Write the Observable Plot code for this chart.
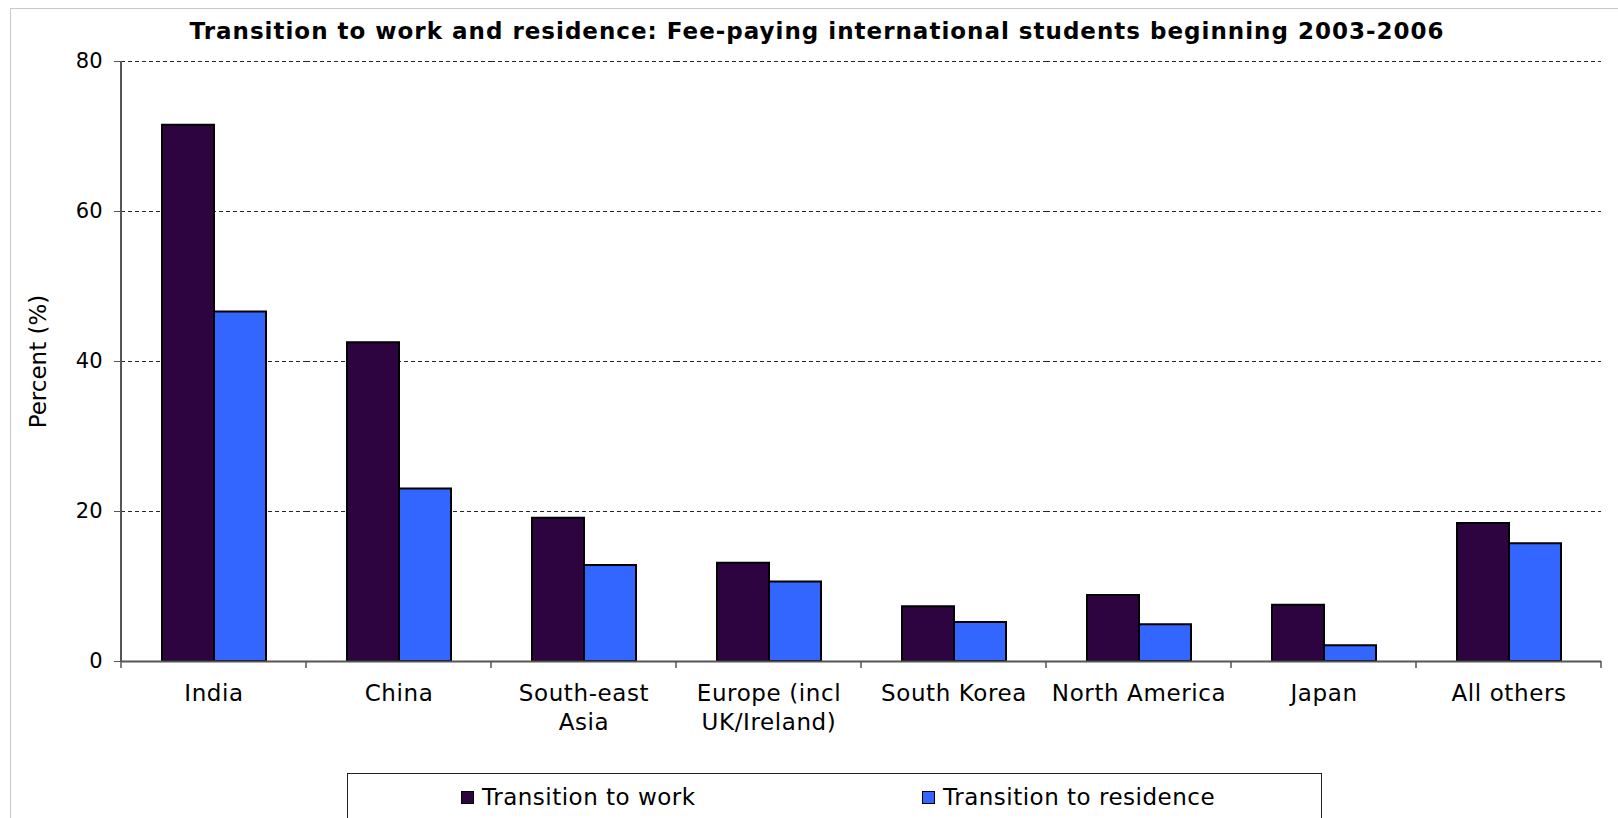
<!DOCTYPE html>
<html><head><meta charset="utf-8">
<script src="https://cdn.jsdelivr.net/npm/d3@7"></script>
<script src="https://cdn.jsdelivr.net/npm/@observablehq/plot@0.6"></script>
<style>
body{margin:0;background:#fff;font-family:"DejaVu Sans",Verdana,sans-serif;overflow:hidden;}
#frame{position:absolute;left:10px;top:8px;width:1640px;height:900px;border:1px solid #c8c8c8;}
#title{position:absolute;left:0;top:20px;width:1634px;text-align:center;font-weight:bold;font-size:23px;line-height:23px;letter-spacing:1px;color:#000;white-space:nowrap;}
#chart{position:absolute;left:0;top:0;}
#legend{position:absolute;left:347px;top:773px;width:973px;height:80px;border:1px solid #222;background:#fff;}
.item{position:absolute;top:12px;font-size:23px;line-height:23px;letter-spacing:0.5px;white-space:nowrap;}
.swatch{position:absolute;width:11px;height:11px;border:1px solid #000;}
#chart g[aria-label="y-axis label"], #chart g[aria-label="y-axis label"] text{font-size:23px !important;}
#chart g[aria-label="fx-axis tick label"] text{letter-spacing:0.6px;}
</style>
</head><body>
<div id="frame"></div>
<div id="chart"></div>
<div id="title">Transition to work and residence: Fee-paying international students beginning 2003-2006</div>
<div id="legend"></div>
<script>
const categories = ["India","China","South-east Asia","Europe (incl UK/Ireland)","South Korea","North America","Japan","All others"];
const tickLabels = ["India","China","South-east\nAsia","Europe (incl\nUK/Ireland)","South Korea","North America","Japan","All others"];
const series = ["Transition to work","Transition to residence"];
const work = [71.5, 42.5, 19.1, 13.1, 7.3, 8.8, 7.5, 18.4];
const residence = [46.6, 23.0, 12.8, 10.6, 5.2, 4.9, 2.1, 15.7];
const yTicks = [0, 20, 40, 60, 80];
const colors = ["#2e0440", "#3366ff"];

const rows = categories.flatMap((c, i) => [
  {category: c, series: series[0], value: work[i]},
  {category: c, series: series[1], value: residence[i]}
]);

const plot = Plot.plot({
  width: 1618, height: 760,
  marginLeft: 120, marginRight: 17, marginTop: 61, marginBottom: 99,
  style: {fontFamily: "DejaVu Sans", fontSize: "23px", background: "transparent", overflow: "visible", color: "#000"},
  fx: {domain: categories, padding: 0},
  x: {domain: series, paddingInner: 0, paddingOuter: 0.756, axis: null},
  y: {domain: [0, 80]},
  color: {domain: series, range: colors},
  marks: [
    Plot.ruleY(yTicks.slice(1), {stroke: "#000", strokeOpacity: 0.85, strokeDasharray: "4,3"}),
    Plot.barY(rows, {fx: "category", x: "series", y: "value", fill: "series", stroke: "#000", strokeWidth: 2}),
    Plot.ruleY([0], {stroke: "#555", strokeWidth: 2}),
    Plot.axisY(yTicks, {tickSize: 7, tickPadding: 12, fontSize: 21, stroke: "#555", label: "Percent (%)", labelAnchor: "center", labelOffset: 92, labelArrow: "none"}),
    Plot.axisFx({anchor: "bottom", tickSize: 0, tickPadding: 19, fontSize: 23, lineHeight: 1.25, label: null,
      tickFormat: d => tickLabels[categories.indexOf(d)]})
  ]
});
document.getElementById("chart").appendChild(plot);

// y-axis line and category boundary ticks, positioned from Plot's own scales
const fx = plot.scale("fx"), y = plot.scale("y");
if (fx && y) {
  const svg = d3.select(plot);
  const starts = categories.map(c => fx.apply(c));
  const edges = [...starts, starts[starts.length - 1] + fx.bandwidth];
  const y0 = y.apply(0), yTop = y.apply(80);
  const g = svg.append("g").attr("stroke", "#555");
  g.append("line").attr("x1", edges[0]).attr("x2", edges[0]).attr("y1", yTop).attr("y2", y0).attr("stroke-width", 2);
  edges.forEach(x => g.append("line").attr("x1", x).attr("x2", x).attr("y1", y0).attr("y2", y0 + 7).attr("stroke-width", 1.5));
}

// legend
const legend = document.getElementById("legend");
const legendX = [113, 574];
series.forEach((s, i) => {
  const sw = document.createElement("div");
  sw.className = "swatch"; sw.style.left = legendX[i] + "px"; sw.style.top = "17px"; sw.style.background = colors[i];
  legend.appendChild(sw);
  const t = document.createElement("div");
  t.className = "item"; t.style.left = (legendX[i] + 21) + "px"; t.textContent = s;
  legend.appendChild(t);
});
</script>
</body></html>
